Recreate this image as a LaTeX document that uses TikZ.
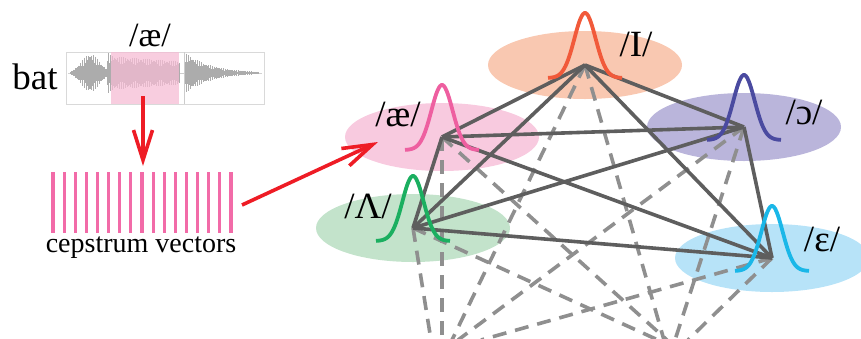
\documentclass[tikz,border=0pt]{standalone}
\usepackage{fontspec}
\setmainfont{Liberation Serif}
\usepackage{tikz}
\usetikzlibrary{arrows.meta}

\definecolor{redline}{HTML}{EE1C25}
\definecolor{edgegray}{HTML}{5E5E5E}
\definecolor{dashgray}{HTML}{8F8F8F}
\definecolor{cepspink}{HTML}{F26BA8}
\definecolor{wavehl}{HTML}{F5BCD4}
\definecolor{aefill}{HTML}{F8CADF}
\definecolor{aebell}{HTML}{EE5FA0}
\definecolor{uhfill}{HTML}{C3E3CB}
\definecolor{uhbell}{HTML}{1BAF60}
\definecolor{ihfill}{HTML}{F9C8B1}
\definecolor{ihbell}{HTML}{F15A3A}
\definecolor{awfill}{HTML}{BAB5DB}
\definecolor{awbell}{HTML}{4A4AA0}
\definecolor{ehfill}{HTML}{B7E3F8}
\definecolor{ehbell}{HTML}{1AB7E8}

\begin{document}
\begin{tikzpicture}[x=1pt,y=-1pt,
    redarrow/.style={redline,line width=3.6pt,-{Straight Barb[length=30pt,width=19pt]}},
    edge/.style={edgegray,line width=3.6pt},
    link/.style={dashgray,line width=3.6pt,dash pattern=on 14pt off 9pt},
    bell/.style={line width=3.8pt},
    vowel/.style={font=\fontsize{37}{44}\selectfont,inner sep=0pt}]
\useasboundingbox (0,0) rectangle (861,338);
\clip (0,0) rectangle (861,338);

% recording of "bat"
\draw[gray!30,line width=0.8pt] (66,52) rectangle (264,104);
\draw[gray!35,line width=0.5pt] (68,73) -- (262,73);
\foreach \i in {0,...,188}{
  \pgfmathsetmacro\xx{70+\i}
  \pgfmathsetmacro\env{19*exp(-((\xx-90)/13)*((\xx-90)/13)) + (and(\xx>106,\xx<180) ? 17-0.07*(\xx-106) : 0) + (\xx>183 ? 21*exp(-(\xx-184)/26) : 0)}
  \pgfmathsetmacro\amp{\env*(0.5+0.5*abs(sin(\i*83)))}
  \draw[gray!65,line width=0.5pt] (\xx,{73-\amp}) -- (\xx,{73+\amp});
}
\fill[wavehl,opacity=0.75] (111,52) rectangle (179,104);
\draw[gray!40,line width=0.6pt] (184,52) -- (184,104);

\node[font=\fontsize{37}{44}\selectfont] (bat) at (35,77) {bat};
\node[font=\fontsize{34}{40}\selectfont] (aetop) at (150,35) {/æ/};

% cepstrum vectors
\foreach \k in {0,...,16}
  \draw[cepspink,line width=3.2pt] ({53+11.125*\k},172) -- ++(0,61);
\node[font=\fontsize{28}{32}\selectfont] (ceps) at (141,248) {cepstrum vectors};

% vowel states
\coordinate (ae) at (442,137);
\coordinate (uh) at (413,228);
\coordinate (ih) at (585,65);
\coordinate (aw) at (744,127);
\coordinate (eh) at (772,258);

\foreach \p in {ae,uh,ih,aw,eh}
  \fill[\p fill] (\p) ellipse (97 and 34);

\coordinate (wavecut) at (143,96);
\coordinate (cepsin) at (143,166);
\coordinate (cepsout) at (242,205);
\coordinate (aein) at (378,142);
\draw[redarrow] (wavecut) -- (cepsin);
\draw[redarrow] (cepsout) -- (aein);

% links to states below
\coordinate (uhL) at (431,340);
\coordinate (uhR) at (658,340);
\coordinate (aeL) at (442,340);
\coordinate (aeR) at (667,340);
\coordinate (ihL) at (452,340);
\coordinate (ihR) at (664,340);
\coordinate (awL) at (458,340);
\coordinate (awR) at (675,340);
\coordinate (ehL) at (481,340);
\coordinate (ehR) at (688,340);
\foreach \p in {ae,uh,ih,aw,eh}{
  \draw[link] (\p) -- (\p L);
  \draw[link] (\p) -- (\p R);
}

\foreach \a/\b in {ae/ih,ae/aw,ae/eh,ae/uh,uh/ih,uh/aw,uh/eh,ih/aw,ih/eh,aw/eh}
  \draw[edge] (\a) -- (\b);

\foreach \p in {ae,uh,ih,aw,eh}{
  \begin{scope}[shift={(\p)}]
    \draw[bell,\p bell] plot[domain=-37:37,samples=60,smooth] (\x,{13-65*exp(-(\x/15)*(\x/15))});
  \end{scope}
}

\node[vowel] (aelab) at (398,114) {/æ/};
\node[vowel] (uhlab) at (368,206) {/Λ/};
\node[vowel] (ihlab) at (636,44) {/I/};
\node[vowel] (awlab) at (804,112) {/ɔ/};
\node[vowel] (ehlab) at (822,239) {/ε/};
\end{tikzpicture}
\end{document}
